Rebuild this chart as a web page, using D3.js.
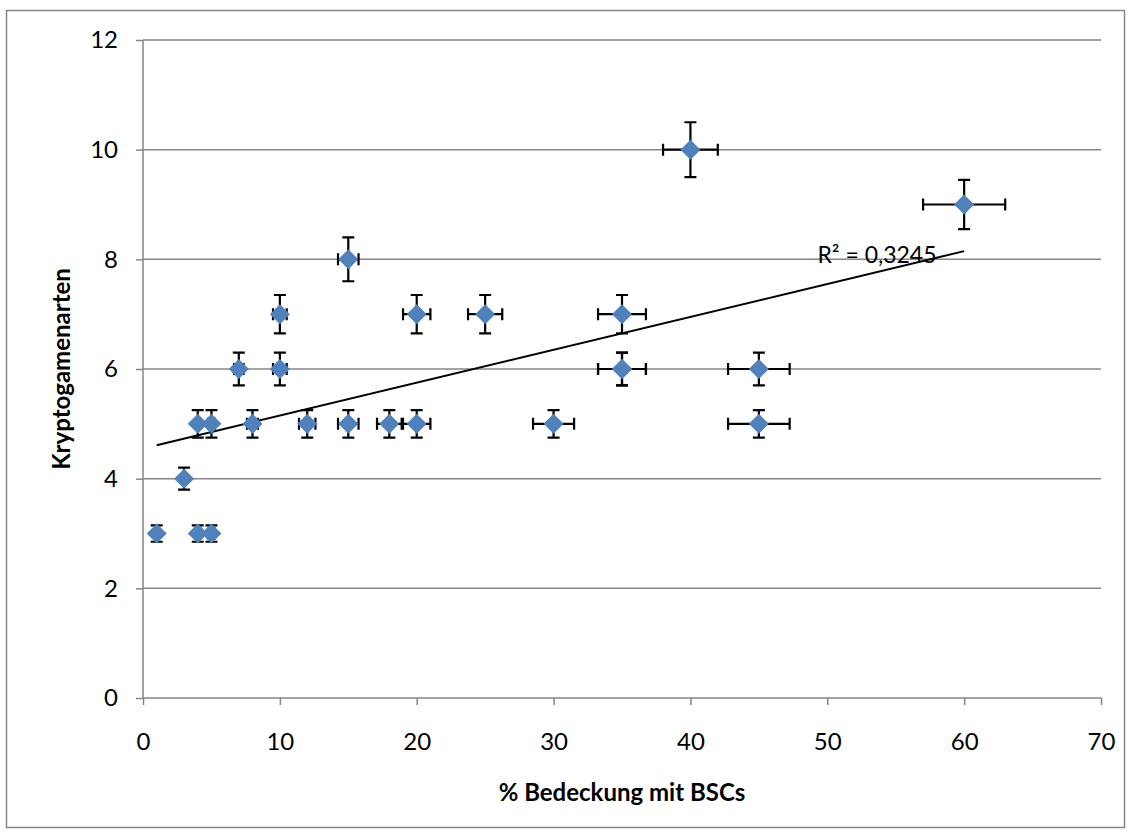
<!DOCTYPE html>
<html>
<head>
<meta charset="utf-8">
<script src="https://cdn.jsdelivr.net/npm/d3@7"></script>
<style>
  html, body { margin: 0; padding: 0; background: #fff; }
  svg { display: block; }
  text { font-family: Lato, "Open Sans", sans-serif; fill: #000; }
</style>
</head>
<body>
<svg id="chart" width="1131" height="834"></svg>
<script>
// ---- data ----
const coverX  = [1, 3, 4, 5, 4, 5, 7, 8, 10, 10, 12, 15, 15, 18, 20, 20, 25, 30, 35, 35, 35, 40, 45, 45, 60];
const speciesY = [3, 4, 5, 5, 3, 3, 6, 5, 7, 6, 5, 8, 5, 5, 7, 5, 7, 5, 7, 6, 6, 10, 6, 5, 9];
const errorPercent = 5;            // Excel percentage error bars (both directions)
const xTicks = [0, 10, 20, 30, 40, 50, 60, 70];
const yTicks = [0, 2, 4, 6, 8, 10, 12];
const trendSlope = 0.060;
const trendIntercept = 4.55;
const trendRange = [1, 60];
const r2Label = "R² = 0,3245";
const xTitle = "% Bedeckung mit BSCs";
const yTitle = "Kryptogamenarten";

const svg = d3.select("#chart");
const plotL = 143, plotR = 1101, plotT = 40, plotB = 698;

// outer chart border
svg.append("rect").attr("x", 6.5).attr("y", 10.5).attr("width", 1118).attr("height", 817)
  .attr("fill", "#fff").attr("stroke", "#868686").attr("stroke-width", 1.5);

const x = d3.scaleLinear().domain([0, 70]).range([plotL, plotR]);
const y = d3.scaleLinear().domain([0, 12]).range([plotB, plotT]);

// gridlines
svg.append("g").selectAll("line").data(yTicks.filter(d => d > 0)).join("line")
  .attr("x1", plotL).attr("x2", plotR)
  .attr("y1", d => y(d)).attr("y2", d => y(d))
  .attr("stroke", "#868686").attr("stroke-width", 1.5);

// axes
const gx = svg.append("g").attr("transform", `translate(0,${plotB})`)
  .call(d3.axisBottom(x).tickValues(xTicks).tickSize(7).tickPadding(28).tickFormat(d3.format("d")));
const gy = svg.append("g").attr("transform", `translate(${plotL},0)`)
  .call(d3.axisLeft(y).tickValues(yTicks).tickSize(7).tickPadding(18).tickFormat(d3.format("d")));
[gx, gy].forEach(g => {
  g.select(".domain").attr("stroke", "#868686").attr("stroke-width", 1.5);
  g.selectAll(".tick line").attr("stroke", "#868686").attr("stroke-width", 1.5);
  g.selectAll(".tick text").attr("font-family", "Lato, sans-serif").attr("font-size", 24).attr("fill", "#000");
});
gx.select(".domain").attr("d", `M${plotL},0H${plotR}`);
gy.select(".domain").attr("d", `M0,${plotT}V${plotB}`);

// data
const pts = coverX.map((v, i) => ({ x: v, y: speciesY[i] }));

// trendline
svg.append("line")
  .attr("x1", x(trendRange[0])).attr("y1", y(trendIntercept + trendSlope * trendRange[0]))
  .attr("x2", x(trendRange[1])).attr("y2", y(trendIntercept + trendSlope * trendRange[1]))
  .attr("stroke", "#000").attr("stroke-width", 2);

// error bars
const eb = svg.append("g").attr("stroke", "#000").attr("stroke-width", 2.2).attr("fill", "none");
const capY = 6, capX = 6;
pts.forEach(p => {
  const ex = p.x * errorPercent / 100, ey = p.y * errorPercent / 100;
  const cx = x(p.x), cy = y(p.y);
  const x0 = x(p.x - ex), x1 = x(p.x + ex), y0 = y(p.y - ey), y1 = y(p.y + ey);
  eb.append("path").attr("d",
    `M${x0},${cy}H${x1}` +
    `M${x0},${cy - capX}V${cy + capX}M${x1},${cy - capX}V${cy + capX}` +
    `M${cx},${y0}V${y1}` +
    `M${cx - capY},${y0}H${cx + capY}M${cx - capY},${y1}H${cx + capY}`);
});

// markers
const sym = d3.symbol().type(d3.symbolSquare).size(200);
svg.append("g").selectAll("path").data(pts).join("path")
  .attr("d", sym)
  .attr("transform", d => `translate(${x(d.x)},${y(d.y)}) rotate(45)`)
  .attr("fill", "#4F81BD");

// R² label
svg.append("text").attr("x", 877).attr("y", 263).attr("text-anchor", "middle")
  .attr("font-size", 23).text(r2Label);

// axis titles
svg.append("text").attr("x", (plotL + plotR) / 2).attr("y", 801).attr("text-anchor", "middle")
  .attr("font-size", 24).attr("font-weight", "bold").text(xTitle);
svg.append("text").attr("transform", `translate(70,${(plotT + plotB) / 2}) rotate(-90)`)
  .attr("text-anchor", "middle").attr("font-size", 24).attr("font-weight", "bold").text(yTitle);
</script>
</body>
</html>
